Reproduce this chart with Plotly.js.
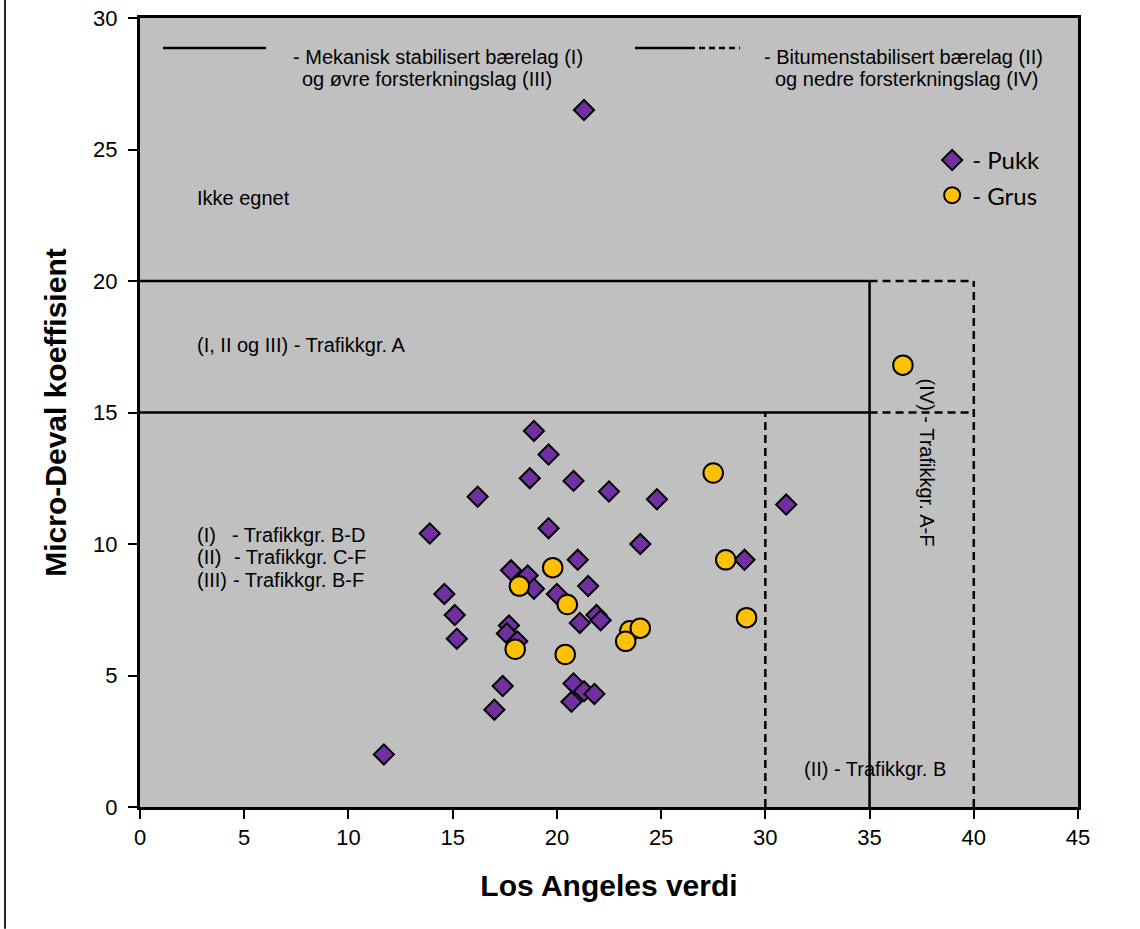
<!DOCTYPE html>
<html>
<head>
<meta charset="utf-8">
<script src="https://cdn.plot.ly/plotly-3.0.1.min.js"></script>
<style>html,body{margin:0;padding:0;background:#fff;}#chart{width:1140px;height:929px;}</style>
</head>
<body>
<div id="chart"></div>
<script>
// ---- Data ----
const pukkLA = [21.3, 18.9, 19.6, 18.7, 20.8, 22.5, 24.8, 16.2, 13.9, 19.6, 24.0, 21.0, 17.8, 18.6, 18.9, 21.5, 20.0, 14.6, 15.1, 21.9, 22.1, 21.1, 15.2, 17.7, 17.6, 18.1, 20.8, 21.3, 21.8, 20.7, 17.4, 17.0, 11.7, 31.0, 29.0];
const pukkMD = [26.5, 14.3, 13.4, 12.5, 12.4, 12.0, 11.7, 11.8, 10.4, 10.6, 10.0, 9.4, 9.0, 8.8, 8.3, 8.4, 8.1, 8.1, 7.3, 7.3, 7.1, 7.0, 6.4, 6.9, 6.6, 6.3, 4.7, 4.4, 4.3, 4.0, 4.6, 3.7, 2.0, 11.5, 9.4];
const grusLA = [36.6, 27.5, 19.8, 18.2, 28.1, 20.5, 29.1, 23.5, 24.0, 23.3, 18.0, 20.4];
const grusMD = [16.8, 12.7, 9.1, 8.4, 9.4, 7.7, 7.2, 6.7, 6.8, 6.3, 6.0, 5.8];

// Requirement limits (Los Angeles / Micro-Deval)
const laMekanisk = 35;   // solid vertical limit
const laBitumen = 40;    // dashed vertical limit
const laBitumenB = 30;   // dashed vertical limit, trafikkgr. B
const mdA = 20;          // upper horizontal limit
const mdBF = 15;         // lower horizontal limit

const xTickVals = [0, 5, 10, 15, 20, 25, 30, 35, 40, 45];
const yTickVals = [0, 5, 10, 15, 20, 25, 30];

const seriesNames = ['- Pukk', '- Grus'];
const xTitle = 'Los Angeles verdi';
const yTitle = 'Micro-Deval koeffisient';

// ---- Styling ----
const FONT = 'Liberation Sans, Arial, sans-serif';
const solid = {color: '#000', width: 2.5};
const dashed = {color: '#000', width: 2.5, dash: '8px,5px'};

const traces = [
  {
    x: pukkLA, y: pukkMD, type: 'scatter', mode: 'markers', name: seriesNames[0],
    legendgroup: 'a',
    marker: {symbol: 'diamond', size: 15.5, color: '#7030A0', line: {color: '#000', width: 2}},
    hoverinfo: 'x+y'
  },
  {
    x: grusLA, y: grusMD, type: 'scatter', mode: 'markers', name: seriesNames[1],
    legendgroup: 'b',
    marker: {symbol: 'circle', size: 19.5, color: '#FFC000', line: {color: '#000', width: 2}},
    hoverinfo: 'x+y'
  }
];

function seg(x0, y0, x1, y1, line) {
  return {type: 'line', xref: 'x', yref: 'y', x0, y0, x1, y1, line, layer: 'below'};
}
function pseg(x0, y0, x1, y1, line) {
  return {type: 'line', xref: 'paper', yref: 'paper', x0, y0, x1, y1, line};
}

const shapes = [
  seg(0, mdA, laMekanisk, mdA, solid),
  seg(laMekanisk, mdA, laBitumen, mdA, dashed),
  seg(0, mdBF, laMekanisk, mdBF, solid),
  seg(laMekanisk, mdBF, laBitumen, mdBF, dashed),
  seg(laMekanisk, 0, laMekanisk, mdA, solid),
  seg(laBitumen, 0, laBitumen, mdA, dashed),
  seg(laBitumenB, 0, laBitumenB, mdBF, dashed),
  // key lines at the top
  pseg(0.0245, 0.962, 0.1343, 0.962, {color: '#000', width: 2.5}),
  pseg(0.5277, 0.962, 0.5853, 0.962, {color: '#000', width: 2.5}),
  pseg(0.5853, 0.962, 0.6397, 0.962, {color: '#000', width: 2.5, dash: '6px,4px'}),
  // left outer border
  pseg(-0.1439, -0.1544, -0.1439, 1.03, {color: '#222', width: 2})
];

function ann(text, x, y, opts) {
  return Object.assign({
    text, x, y, xref: 'x', yref: 'y', showarrow: false,
    xanchor: 'left', yanchor: 'middle',
    font: {family: FONT, size: 20, color: '#000'}
  }, opts || {});
}
function pann(text, x, y, opts) {
  return Object.assign({
    text, x, y, xref: 'paper', yref: 'paper', showarrow: false,
    xanchor: 'center', yanchor: 'middle',
    font: {family: FONT, size: 20, color: '#000'}
  }, opts || {});
}

const annotations = [
  ann('Ikke egnet', 2.62, 23.17),
  ann('(I, II og III) - Trafikkgr. A', 2.66, 17.55),
  ann('(I)', 2.66, 10.33),
  ann('- Trafikkgr. B-D', 4.30, 10.33),
  ann('(II)', 2.66, 9.49),
  ann('- Trafikkgr. C-F', 4.42, 9.49),
  ann('(III)', 2.66, 8.62),
  ann('- Trafikkgr. B-F', 4.35, 8.62),
  ann('(II) - Trafikkgr. B', 38.75, 1.44, {xanchor: 'right'}),
  ann('(IV) - Trafikkgr. A-F', 37.75, 13.1, {xanchor: 'center', textangle: 90}),
  pann('- Mekanisk stabilisert bærelag (I)', 0.3182, 0.9505),
  pann('og øvre forsterkningslag (III)', 0.3065, 0.9225),
  pann('- Bitumenstabilisert bærelag (II)', 0.8140, 0.9505),
  pann('og nedre forsterkningslag (IV)', 0.8172, 0.9225)
];

const axisCommon = {
  showline: true, linecolor: '#000', linewidth: 3, mirror: true,
  ticks: 'outside', ticklen: 9, tickwidth: 2, tickcolor: '#000',
  showgrid: false, zeroline: false, automargin: false,
  tickfont: {family: FONT, size: 22, color: '#000'}
};

const layout = {
  width: 1140, height: 929,
  margin: {l: 140, r: 62, t: 18, b: 122},
  paper_bgcolor: '#fff', plot_bgcolor: '#C0C0C0',
  showlegend: true,
  legend: {
    x: 0.8445, y: 0.848, xanchor: 'left', yanchor: 'top',
    bgcolor: 'rgba(0,0,0,0)', borderwidth: 0,
    font: {family: 'Lato, Noto Sans, sans-serif', size: 24, color: '#000'},
    traceorder: 'grouped', tracegroupgap: 1
  },
  xaxis: Object.assign({}, axisCommon, {
    range: [0, 45], tickvals: xTickVals, ticktext: xTickVals.map(String),
    title: {text: xTitle, font: {family: FONT, size: 30, color: '#000', weight: 'bold'}, standoff: 26}
  }),
  yaxis: Object.assign({}, axisCommon, {
    range: [0, 30], tickvals: yTickVals, ticktext: yTickVals.map(String),
    ticklabelstandoff: 6,
    title: {text: yTitle, font: {family: FONT, size: 30, color: '#000', weight: 'bold'}, standoff: 18}
  }),
  shapes, annotations
};

Plotly.newPlot('chart', traces, layout, {displayModeBar: false, staticPlot: true});
</script>
</body>
</html>
